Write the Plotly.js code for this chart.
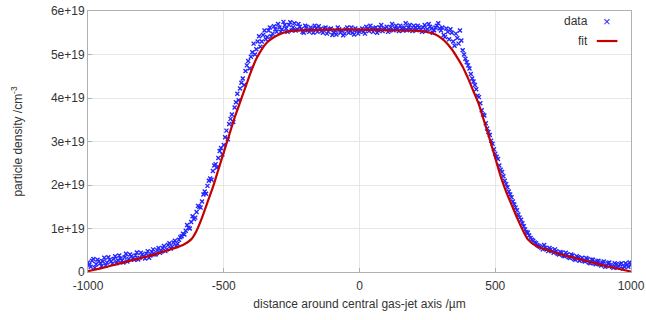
<!DOCTYPE html>
<html><head><meta charset="utf-8">
<script src="https://cdn.plot.ly/plotly-3.0.1.min.js"></script>
<style>html,body{margin:0;padding:0;background:#fff}#chart{width:646px;height:320px}</style>
</head><body><div id="chart"></div>
<script>
// data positions (µm) and measured density (units of 1e19 cm^-3)
const dataX = [-1000,-990,-980,-970,-960,-950,-940,-930,-920,-910,-900,-890,-880,-870,-860,-850,-840,-830,-820,-810,-800,-790,-780,-770,-760,-750,-740,-730,-720,-710,-700,-690,-680,-670,-660,-650,-640,-630,-620,-610,-600,-590,-580,-570,-560,-550,-540,-530,-520,-510,-500,-490,-480,-470,-460,-450,-440,-430,-420,-410,-400,-390,-380,-370,-360,-350,-340,-330,-320,-310,-300,-290,-280,-270,-260,-250,-240,-230,-220,-210,-200,-190,-180,-170,-160,-150,-140,-130,-120,-110,-100,-90,-80,-70,-60,-50,-40,-30,-20,-10,0,10,20,30,40,50,60,70,80,90,100,110,120,130,140,150,160,170,180,190,200,210,220,230,240,250,260,270,280,290,300,310,320,330,340,350,360,370,380,390,400,410,420,430,440,450,460,470,480,490,500,510,520,530,540,550,560,570,580,590,600,610,620,630,640,650,660,670,680,690,700,710,720,730,740,750,760,770,780,790,800,810,820,830,840,850,860,870,880,890,900,910,920,930,940,950,960,970,980,990,1000];
const dataY = [0.22,0.12,0.30,0.18,0.25,0.14,0.33,0.22,0.28,0.19,0.36,0.27,0.31,0.22,0.42,0.30,0.36,0.28,0.45,0.33,0.40,0.31,0.48,0.38,0.52,0.41,0.55,0.47,0.60,0.52,0.66,0.58,0.72,0.65,0.80,0.88,0.95,1.02,1.15,1.22,1.38,1.50,1.62,1.85,1.98,2.15,2.32,2.48,2.62,2.85,2.92,3.25,3.40,3.62,3.78,4.10,4.22,4.45,4.62,4.85,4.95,5.25,5.12,5.42,5.30,5.55,5.40,5.62,5.48,5.58,5.70,5.52,5.75,5.60,5.68,5.55,5.72,5.58,5.64,5.52,5.66,5.56,5.62,5.50,5.60,5.65,5.54,5.60,5.48,5.58,5.45,5.55,5.62,5.50,5.44,5.58,5.50,5.62,5.46,5.56,5.52,5.60,5.48,5.58,5.66,5.52,5.62,5.55,5.68,5.58,5.64,5.55,5.70,5.60,5.58,5.66,5.55,5.72,5.62,5.58,5.66,5.56,5.62,5.52,5.68,5.58,5.64,5.50,5.62,5.72,5.55,5.45,5.60,5.35,5.50,5.20,5.38,5.55,5.10,4.90,4.75,4.55,4.38,4.20,4.02,3.72,3.60,3.30,3.15,2.95,2.72,2.60,2.35,2.20,2.02,1.85,1.72,1.55,1.42,1.25,1.12,0.98,0.90,0.78,0.72,0.66,0.60,0.56,0.62,0.52,0.55,0.48,0.52,0.42,0.46,0.38,0.44,0.34,0.40,0.30,0.36,0.26,0.33,0.24,0.30,0.20,0.28,0.18,0.26,0.15,0.24,0.14,0.22,0.12,0.20,0.10,0.18,0.08,0.20,0.12,0.16];
// second interleaved set of measurements
const dataX2 = [-995,-985,-975,-965,-955,-945,-935,-925,-915,-905,-895,-885,-875,-865,-855,-845,-835,-825,-815,-805,-795,-785,-775,-765,-755,-745,-735,-725,-715,-705,-695,-685,-675,-665,-655,-645,-635,-625,-615,-605,-595,-585,-575,-565,-555,-545,-535,-525,-515,-505,-495,-485,-475,-465,-455,-445,-435,-425,-415,-405,-395,-385,-375,-365,-355,-345,-335,-325,-315,-305,-295,-285,-275,-265,-255,-245,-235,-225,-215,-205,-195,-185,-175,-165,-155,-145,-135,-125,-115,-105,-95,-85,-75,-65,-55,-45,-35,-25,-15,-5,5,15,25,35,45,55,65,75,85,95,105,115,125,135,145,155,165,175,185,195,205,215,225,235,245,255,265,275,285,295,305,315,325,335,345,355,365,375,385,395,405,415,425,435,445,455,465,475,485,495,505,515,525,535,545,555,565,575,585,595,605,615,625,635,645,655,665,675,685,695,705,715,725,735,745,755,765,775,785,795,805,815,825,835,845,855,865,875,885,895,905,915,925,935,945,955,965,975,985,995];
const dataY2 = [0.16,0.26,0.10,0.28,0.20,0.24,0.15,0.34,0.24,0.30,0.20,0.38,0.26,0.34,0.24,0.40,0.32,0.38,0.29,0.44,0.36,0.42,0.33,0.46,0.40,0.50,0.44,0.55,0.48,0.62,0.54,0.68,0.60,0.74,0.82,0.86,1.08,1.00,1.28,1.25,1.52,1.48,1.78,1.80,2.10,2.12,2.45,2.40,2.78,2.70,3.10,3.05,3.52,3.45,3.90,3.95,4.35,4.30,4.75,4.68,5.05,5.00,5.30,5.18,5.45,5.35,5.55,5.42,5.65,5.52,5.62,5.58,5.68,5.52,5.74,5.62,5.55,5.70,5.58,5.50,5.64,5.52,5.58,5.66,5.52,5.58,5.50,5.62,5.52,5.60,5.50,5.46,5.58,5.55,5.48,5.62,5.54,5.50,5.60,5.48,5.56,5.52,5.64,5.54,5.58,5.60,5.50,5.62,5.54,5.60,5.52,5.62,5.56,5.66,5.54,5.60,5.62,5.56,5.68,5.54,5.62,5.66,5.58,5.62,5.54,5.70,5.60,5.56,5.66,5.60,5.62,5.40,5.52,5.58,5.30,5.48,5.25,5.32,5.00,4.82,4.68,4.45,4.30,4.05,3.88,3.62,3.42,3.22,3.02,2.82,2.65,2.45,2.30,2.10,1.95,1.78,1.62,1.48,1.32,1.20,1.05,0.92,0.84,0.74,0.68,0.62,0.58,0.52,0.56,0.48,0.52,0.44,0.48,0.40,0.44,0.36,0.40,0.32,0.38,0.28,0.34,0.30,0.26,0.32,0.22,0.28,0.20,0.24,0.18,0.22,0.12,0.20,0.16,0.10,0.18,0.14,0.20,0.12,0.16,0.22];
// fitted profile (units of 1e19 cm^-3)
const fitX = [-1000,-950,-900,-850,-800,-750,-700,-650,-620,-600,-580,-560,-540,-520,-500,-480,-460,-440,-420,-400,-380,-360,-340,-320,-300,-280,-260,-240,-200,-100,0,100,200,240,260,280,300,320,340,360,380,400,420,440,460,480,500,520,540,560,580,600,620,650,700,750,800,850,900,950,1000];
const fitY = [0.02,0.09,0.17,0.25,0.33,0.41,0.51,0.62,0.75,0.95,1.25,1.6,1.95,2.35,2.75,3.15,3.55,3.9,4.25,4.6,4.9,5.12,5.28,5.38,5.45,5.5,5.53,5.55,5.56,5.57,5.57,5.56,5.55,5.53,5.5,5.46,5.38,5.27,5.12,4.93,4.72,4.45,4.15,3.85,3.45,3.05,2.62,2.2,1.85,1.55,1.25,0.98,0.75,0.6,0.49,0.39,0.31,0.23,0.15,0.08,0.01];
const unit = 1e19;
const xTicks = [-1000,-500,0,500,1000];
const xTickText = ['-1000','-500','0','500','1000'];
const yTicks = [0,1,2,3,4,5,6];
const yTickText = ['0','1e+19','2e+19','3e+19','4e+19','5e+19','6e+19'];

const FONT = 'Liberation Sans, Arial, sans-serif';
const blue = '#2424ff';
const mk = {symbol: 'x-thin', size: 4, color: blue, line: {width: 1.4, color: blue}};
const traces = [
  {x: dataX, y: dataY.map(v => v*unit), type: 'scatter', mode: 'markers', name: 'data', marker: mk},
  {x: dataX2, y: dataY2.map(v => v*unit), type: 'scatter', mode: 'markers', name: 'data', marker: mk},
  {x: fitX, y: fitY.map(v => v*unit), type: 'scatter', mode: 'lines', name: 'fit',
   line: {color: '#c40000', width: 2.2, shape: 'spline', smoothing: 0.6}}
];
const axisCommon = {showline: true, linecolor: '#b0b0b0', linewidth: 1, mirror: true,
  gridcolor: '#e6e6e6', gridwidth: 1, zeroline: false, ticks: 'inside', ticklen: 4, tickcolor: '#b0b0b0',
  tickfont: {family: FONT, size: 12, color: '#333'}};
const layout = {
  width: 646, height: 320, paper_bgcolor: '#fff', plot_bgcolor: '#fff', showlegend: false,
  margin: {l: 88, r: 15, t: 11, b: 48},
  xaxis: Object.assign({}, axisCommon, {range: [-1000, 1000], tickmode: 'array', tickvals: xTicks, ticktext: xTickText,
    ticklabelstandoff: 3,
    title: {text: 'distance around central gas-jet axis /µm', standoff: 7, font: {family: FONT, size: 12, color: '#333'}}}),
  yaxis: Object.assign({}, axisCommon, {range: [0, 6e19], tickmode: 'array', tickvals: yTicks.map(v => v*unit), ticktext: yTickText,
    title: {text: 'particle density /cm<sup>-3</sup>', standoff: 25, font: {family: FONT, size: 12, color: '#333'}}}),
  annotations: [
    {xref: 'paper', yref: 'paper', x: 0.925, y: 0.96, xanchor: 'right', yanchor: 'middle', text: 'data', showarrow: false,
     font: {family: FONT, size: 12, color: '#333'}},
    {xref: 'paper', yref: 'paper', x: 0.955, y: 0.96, xanchor: 'center', yanchor: 'middle', text: '×', showarrow: false,
     font: {family: FONT, size: 13, color: blue}},
    {xref: 'paper', yref: 'paper', x: 0.925, y: 0.885, xanchor: 'right', yanchor: 'middle', text: 'fit', showarrow: false,
     font: {family: FONT, size: 12, color: '#333'}}
  ],
  shapes: [
    {type: 'line', xref: 'paper', yref: 'paper', x0: 0.937, x1: 0.975, y0: 0.885, y1: 0.885, line: {color: '#c40000', width: 2.2}}
  ]
};
Plotly.newPlot('chart', traces, layout, {displayModeBar: false, staticPlot: true});
</script></body></html>
